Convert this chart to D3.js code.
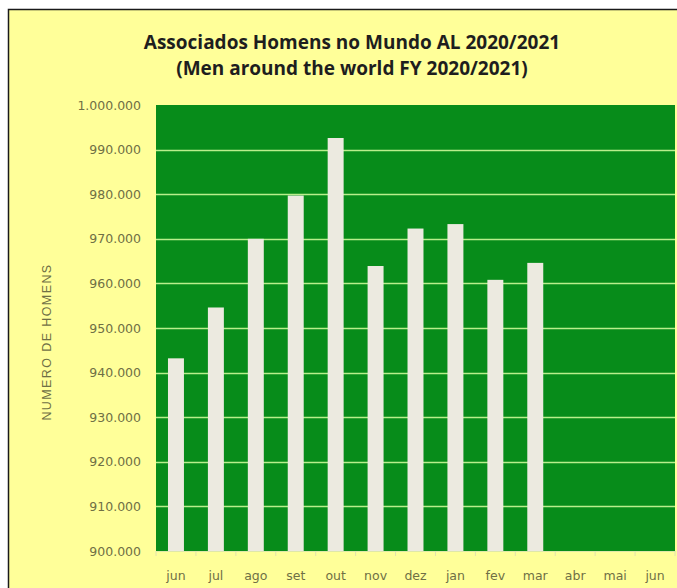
<!DOCTYPE html>
<html>
<head>
<meta charset="utf-8">
<script src="https://cdn.jsdelivr.net/npm/d3@7"></script>
<style>
  body { margin: 0; background: #fff; }
  svg { display: block; }
</style>
</head>
<body>
<div id="chart"></div>
<script>
const months = ['jun', 'jul', 'ago', 'set', 'out', 'nov', 'dez', 'jan', 'fev', 'mar', 'abr', 'mai', 'jun '];
const members = [943200, 954600, 970000, 979700, 992600, 963900, 972300, 973300, 960800, 964600, null, null, null];
const yTicks = [900000, 910000, 920000, 930000, 940000, 950000, 960000, 970000, 980000, 990000, 1000000];

const W = 677, H = 588;
const plot = { left: 156, right: 675, top: 105, bottom: 551 };

const svg = d3.select('#chart').append('svg')
    .attr('width', W)
    .attr('height', H);

// chart area background + border
svg.append('rect')
    .attr('x', 8.5)
    .attr('y', 9.5)
    .attr('width', W + 10)
    .attr('height', H + 10)
    .attr('fill', '#ffff99')
    .attr('stroke', '#1a1a1a')
    .attr('stroke-width', 1.5);

// titles
const titleStyle = sel => sel
    .attr('x', 352)
    .attr('text-anchor', 'middle')
    .attr('fill', '#1e1e1e')
    .style('font-family', '"Open Sans", sans-serif')
    .style('font-weight', 'bold')
    .style('font-size', '19px');
svg.append('text').call(titleStyle).attr('y', 49).text('Associados Homens no Mundo AL 2020/2021');
svg.append('text').call(titleStyle).attr('y', 75).text('(Men around the world FY 2020/2021)');

const x = d3.scaleBand()
    .domain(d3.range(months.length))
    .range([plot.left, plot.right])
    .paddingInner(0.6)
    .paddingOuter(0.3);

const y = d3.scaleLinear()
    .domain([900000, 1000000])
    .range([plot.bottom, plot.top]);

// plot area
svg.append('rect')
    .attr('x', plot.left)
    .attr('y', plot.top)
    .attr('width', plot.right - plot.left)
    .attr('height', plot.bottom - plot.top)
    .attr('fill', '#078c1a');

// gridlines
svg.append('g')
    .selectAll('line')
    .data(yTicks.slice(1, -1))
    .join('line')
    .attr('x1', plot.left)
    .attr('x2', plot.right)
    .attr('y1', d => Math.round(y(d)) + 0.5)
    .attr('y2', d => Math.round(y(d)) + 0.5)
    .attr('stroke', '#b9ee8c')
    .attr('stroke-width', 1.5);

// bars
svg.append('g')
    .selectAll('rect')
    .data(members.map((v, i) => ({ v, i })).filter(d => d.v != null))
    .join('rect')
    .attr('x', d => x(d.i))
    .attr('width', x.bandwidth())
    .attr('y', d => y(d.v))
    .attr('height', d => y(900000) - y(d.v))
    .attr('fill', '#eceae0');

const fmt = d3.formatLocale({ decimal: ',', thousands: '.', grouping: [3], currency: ['', ''] }).format(',d');

// y axis
const yAxis = svg.append('g')
    .attr('transform', `translate(${plot.left},0)`)
    .call(d3.axisLeft(y).tickValues(yTicks).tickFormat(fmt).tickSize(0).tickPadding(15));
yAxis.select('.domain').remove();
yAxis.selectAll('text')
    .attr('fill', '#6f6f45')
    .style('font-family', '"DejaVu Sans", sans-serif')
    .style('font-size', '12.5px');

// x axis
const xAxis = svg.append('g')
    .attr('transform', `translate(0,${plot.bottom})`)
    .call(d3.axisBottom(x).tickFormat(i => months[i].trim()).tickSize(0).tickPadding(20));
xAxis.select('.domain').attr('stroke', '#e0e8a8');
xAxis.selectAll('text')
    .attr('fill', '#6f6f45')
    .style('font-family', '"DejaVu Sans", sans-serif')
    .style('font-size', '12.5px');

// small tick marks at category boundaries
svg.append('g')
    .selectAll('line')
    .data(d3.range(months.length + 1))
    .join('line')
    .attr('x1', i => plot.left + i * x.step())
    .attr('x2', i => plot.left + i * x.step())
    .attr('y1', plot.bottom)
    .attr('y2', plot.bottom + 5)
    .attr('stroke', '#e0e0b0');

// y axis title
svg.append('text')
    .attr('transform', 'translate(51,342) rotate(-90)')
    .attr('text-anchor', 'middle')
    .attr('fill', '#6f6f45')
    .style('font-family', '"Liberation Sans", sans-serif')
    .style('font-size', '12.5px')
    .style('letter-spacing', '1.4px')
    .text('NUMERO DE HOMENS');
</script>
</body>
</html>
